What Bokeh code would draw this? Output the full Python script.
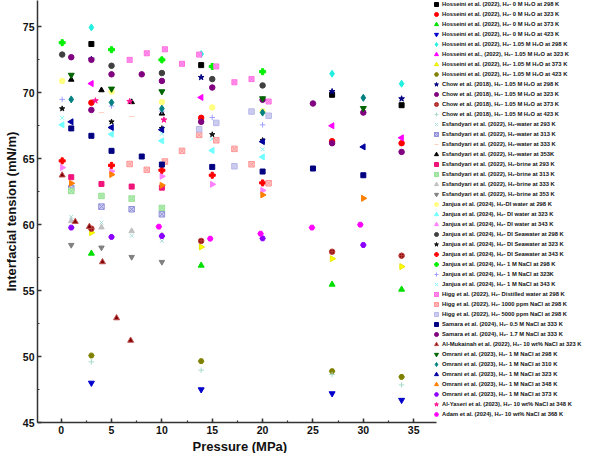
import math
from bokeh.plotting import figure
from bokeh.models import Legend, LegendItem, SingleIntervalTicker, Range1d, Title
from bokeh.embed import file_html
from bokeh.resources import INLINE

# ---------------- data (pressure MPa, IFT mN/m) ----------------
hos_p = [3.0, 13.9, 26.9, 33.8]
hos0_298 = [73.7, 72.1, 69.85, 69.06]
hos0_323 = [69.25, 68.1, 66.33, 66.18]
hos0_373 = [57.82, 56.91, 55.47, 55.09]
hos0_423 = [48.0, 47.5, 47.2, 46.7]
hos1_298 = [74.96, 72.94, 71.45, 70.69]
hos1_323 = [70.7, 69.65, 67.5, 66.59]
hos1_373 = [59.4, 58.31, 57.42, 56.82]
hos1_423 = [50.08, 49.65, 48.89, 48.46]

chow_p = [3.0, 13.9, 26.9, 33.8]
chow_298 = [72.55, 71.17, 70.1, 69.55]
chow_323 = [68.7, 67.8, 66.18, 65.52]
chow_373 = [59.7, 58.77, 57.95, 57.65]
chow_423 = [49.6, 48.97, 48.64, 47.85]

esf_p = [1.0, 4.0, 7.0, 10.0]
esf_w293 = [60.6, 60.16, 59.17, 58.77]
esf_w313 = [62.76, 61.37, 61.17, 60.79]
esf_w333_p = [4.0, 7.0]
esf_w333 = [68.5, 68.2]
esf_w353 = [71.0, 70.2, 69.3, 68.43]
esf_b293 = [63.6, 63.09, 62.89, 62.81]
esf_b313 = [62.56, 62.18, 61.98, 61.27]
esf_b333 = [60.28, 59.8, 59.52, 59.2]
esf_b353 = [58.46, 58.26, 57.55, 57.17]

jan_p = [0.1, 5.0, 10.0, 15.0, 20.0]
jan_di298 = [70.9, 70.1, 69.3, 68.89, 68.6]
jan_di323 = [67.57, 66.86, 66.36, 65.62, 65.14]
jan_di343 = [64.33, 64.05, 63.67, 63.06, 62.6]
jan_sw298 = [72.9, 72.05, 71.5, 71.04, 70.56]
jan_sw323 = [68.8, 67.8, 67.3, 66.84, 66.4]
jan_sw343 = [64.84, 64.5, 64.13, 63.75, 63.17]
jan_n298 = [73.8, 73.27, 72.5, 72.0, 71.6]
jan_n323 = [69.5, 69.0, 68.6, 68.13, 67.57]
jan_n343 = [68.1, 67.4, 66.9, 66.5, 65.72]

higg_p = [6.8, 8.5, 10.3, 12.0, 13.7, 15.4, 17.2, 18.9, 20.6]
higg_dw = [72.5, 73.0, 73.3, 72.2, 72.9, 72.0, 70.8, 71.04, 69.34]
higg_1000 = [64.6, 64.16, 64.79, 65.6, 66.81, 66.4, 65.75, 64.58, 63.14]
higg_5000_p = [13.7, 15.4, 17.2, 18.9, 20.6]
higg_5000 = [67.24, 67.72, 64.43, 68.58, 68.26]

sam_p = [1.0, 3.0, 5.0, 8.0, 10.0, 15.0, 20.0, 25.0, 30.0]
sam_05 = [67.3, 66.74, 65.6, 65.17, 64.56, 64.38, 64.03, 64.26, 63.75]
sam_17 = [72.7, 72.5, 71.4, 71.4, 70.9, 70.4, 69.47, 69.19, 68.5]

muk_p = [0.1, 1.4, 2.8, 4.1, 5.5, 6.9]
muk_323 = [63.75, 60.23, 59.85, 57.17, 52.92, 51.22]

omr_p = [1.0, 5.0, 10.0, 20.0, 30.0]
omr_298 = [71.35, 70.3, 70.1, 69.57, 68.83]
omr_310 = [69.5, 69.27, 68.8, 68.5, 69.62]
omr_323 = [67.8, 67.37, 67.2, 66.3, 65.9]
omr_348 = [63.14, 63.8, 62.99, 62.26, 62.0]
omr_373 = [59.78, 59.07, 59.14, 58.96, 58.46]

yas_p = [3.4, 6.8, 10.2]
yas_348 = [69.4, 69.35, 67.95]

adam_p = [9.7, 14.8, 19.8, 24.9, 29.7]
adam_368 = [59.85, 58.94, 59.32, 59.78, 60.0]

# axis settings
x_start, x_axis_end, x_view_end = -2.35, 37.3, 51.96
y_start, y_end = 45, 77
tick_step = 5

H2 = "H\u2082"
H2O = "H\u2082O"

# label, x, y, marker, fill, line, size, angle
series = [
    (f"Hosseini et al. (2022), {H2}- 0 M {H2O} at 298 K", hos_p, hos0_298, "square", "#000000", "#000000", 5, 0),
    (f"Hosseini et al. (2022), {H2}- 0 M {H2O} at 323 K", hos_p, hos0_323, "circle", "#FF0000", "#FF0000", 5.5, 0),
    (f"Hosseini et al. (2022), {H2}- 0 M {H2O} at 373 K", hos_p, hos0_373, "triangle", "#00E000", "#00E000", 6, 0),
    (f"Hosseini et al. (2022), {H2}- 0 M {H2O} at 423 K", hos_p, hos0_423, "inverted_triangle", "#0000CC", "#0000CC", 6, 0),
    (f"Hosseini et al. (2022), {H2}- 1.05 M {H2O} at 298 K", hos_p, hos1_298, "diamond", "#20F0E0", "#20F0E0", 7, 0),
    (f"Hosseini et al., (2022), {H2}- 1.05 M {H2O} at 323 K", hos_p, hos1_323, "triangle", "#FF00FF", "#FF00FF", 6, math.pi / 2),
    (f"Hosseini et al. (2022), {H2}- 1.05 M {H2O} at 373 K", hos_p, hos1_373, "triangle", "#FFFF00", "#E8E800", 6, -math.pi / 2),
    (f"Hosseini et al. (2022), {H2}- 1.05 M {H2O} at 423 K", hos_p, hos1_423, "hex", "#808000", "#808000", 5.5, 0),
    (f"Chow et al. (2018), {H2}- 1.05 M {H2O} at 298 K", chow_p, chow_298, "star", "#000080", "#000080", 6, 0),
    (f"Chow et al. (2018), {H2}- 1.05 M {H2O} at 323 K", chow_p, chow_323, "circle", "#800080", "#800080", 5.5, 0),
    (f"Chow et al. (2018), {H2}- 1.05 M {H2O} at 373 K", chow_p, chow_373, "circle_cross", "#800000", "#C04040", 5.5, 0),
    (f"Chow et al. (2018), {H2}- 1.05 M {H2O} at 423 K", chow_p, chow_423, "cross", "#A8DCC8", "#A8DCC8", 5.5, 0),
    (f"Esfandyari et al. (2022), {H2}-water at 293 K", esf_p, esf_w293, "x", "#A8DCD8", "#A8DCD8", 5.5, 0),
    (f"Esfandyari et al. (2022), {H2}-water at 313 K", esf_p, esf_w313, "square_x", "#D0D0F4", "#9090D8", 5.5, 0),
    (f"Esfandyari et al. (2022), {H2}-water at 333 K", esf_w333_p, esf_w333, "dash", "#FFD0C0", "#FFD0C0", 5.5, 0),
    (f"Esfandyari et al. (2022), {H2}-water at 353K", esf_p, esf_w353, "triangle", "#000000", "#000000", 5.5, 0),
    (f"Esfandyari et al. (2022), {H2}-brine at 293 K", esf_p, esf_b293, "square", "#F0147A", "#F0147A", 5, 0),
    (f"Esfandyari et al. (2022), {H2}-brine at 313 K", esf_p, esf_b313, "square_x", "#B8F0B8", "#98E098", 5.5, 0),
    (f"Esfandyari et al. (2022), {H2}-brine at 333 K", esf_p, esf_b333, "triangle", "#C0C0C0", "#C0C0C0", 5.5, 0),
    (f"Esfandyari et al. (2022), {H2}-brine at 353 K", esf_p, esf_b353, "inverted_triangle", "#808080", "#808080", 5.5, 0),
    (f"Janjua et al. (2024), {H2}-DI water at 298 K", jan_p, jan_di298, "circle", "#FFFF80", "#FFFF80", 5.5, 0),
    (f"Janjua et al. (2024), {H2}- DI water at 323 K", jan_p, jan_di323, "triangle", "#70FFFF", "#70FFFF", 6, math.pi / 2),
    (f"Janjua et al. (2024), {H2}- DI water at 343 K", jan_p, jan_di343, "triangle", "#FF80FF", "#FF80FF", 6, -math.pi / 2),
    (f"Janjua et al. (2024), {H2}- DI Seawater at 298 K", jan_p, jan_sw298, "circle", "#404040", "#404040", 5.5, 0),
    (f"Janjua et al. (2024), {H2}- DI Seawater at 323 K", jan_p, jan_sw323, "star", "#101010", "#101010", 5.5, 0),
    (f"Janjua et al. (2024), {H2}- DI Seawater at 343 K", jan_p, jan_sw343, "plus", "#FF0000", "#FF0000", 6, 0),
    (f"Janjua et al. (2024), {H2}- 1 M NaCl at 298 K", jan_p, jan_n298, "plus", "#00F000", "#00F000", 6, 0),
    (f"Janjua et al. (2024), {H2}- 1 M NaCl at 323K", jan_p, jan_n323, "cross", "#A0A0FF", "#A0A0FF", 5.5, 0),
    (f"Janjua et al. (2024), {H2}- 1 M NaCl at 343 K", jan_p, jan_n343, "x", "#80F8F8", "#80F8F8", 5.5, 0),
    (f"Higg et al. (2022), {H2}- Distilled water at 298 K", higg_p, higg_dw, "square_x", "#FF9CF0", "#FF70E0", 5, 0),
    (f"Higg et al. (2022), {H2}- 1000 ppm NaCl at 298 K", higg_p, higg_1000, "square_x", "#FFC8C8", "#FF9898", 5.5, 0),
    (f"Higg et al. (2022), {H2}- 5000 ppm NaCl at 298 K", higg_5000_p, higg_5000, "square", "#CCCCF0", "#B8B8E8", 5.5, 0),
    (f"Samara et al. (2024), {H2}- 0.5 M NaCl at 333 K", sam_p, sam_05, "square", "#000080", "#000080", 5, 0),
    (f"Samara et al. (2024), {H2}- 1.7 M NaCl at 333 K", sam_p, sam_17, "circle", "#800080", "#800080", 5.5, 0),
    (f"Al-Mukainah et al. (2022), {H2}- 10 wt% NaCl at 323 K", muk_p, muk_323, "triangle", "#800000", "#C05050", 6, 0),
    (f"Omrani et al. (2023), {H2}- 1 M NaCl at 298 K", omr_p, omr_298, "inverted_triangle", "#006400", "#006400", 6, 0),
    (f"Omrani et al. (2023), {H2}- 1 M NaCl at 310 K", omr_p, omr_310, "diamond", "#008080", "#008080", 7, 0),
    (f"Omrani et al. (2023), {H2}- 1 M NaCl at 323 K", omr_p, omr_323, "triangle", "#0000A0", "#0000A0", 6, math.pi / 2),
    (f"Omrani et al. (2023), {H2}- 1 M NaCl at 348 K", omr_p, omr_348, "triangle", "#FF8000", "#FF8000", 6, -math.pi / 2),
    (f"Omrani et al. (2023), {H2}- 1 M NaCl at 373 K", omr_p, omr_373, "hex", "#8B00FF", "#8B00FF", 5.5, 0),
    (f"Al-Yaseri et al. (2023), {H2}- 10 wt% NaCl at 348 K", yas_p, yas_348, "star", "#FF1493", "#FF1493", 6, 0),
    (f"Adam et al. (2024), {H2}- 10 wt% NaCl at 368 K", adam_p, adam_368, "hex", "#FF00FF", "#FF00FF", 5.5, 0),
]

FONT = "Liberation Sans"

p = figure(width=584, height=453, output_backend="svg", toolbar_location=None,
           x_range=Range1d(x_start, x_view_end), y_range=Range1d(y_start, y_end),
           min_border_top=0, min_border_right=0, min_border_left=0, min_border_bottom=0)
p.grid.visible = False
p.outline_line_color = None
p.background_fill_color = "white"
p.border_fill_color = "white"

items = []
for label, xs, ys, marker, fill, line, size, angle in series:
    r = p.scatter(xs, ys, marker=marker, size=size, fill_color=fill, line_color=line,
                  line_width=1, angle=angle)
    items.append(LegendItem(label=label, renderers=[r]))

for ax in (p.xaxis[0], p.yaxis[0]):
    ax.ticker = SingleIntervalTicker(interval=tick_step, num_minor_ticks=2)
    ax.axis_line_color = "#333333"
    ax.axis_line_width = 1.5
    ax.major_tick_line_color = "#333333"
    ax.major_tick_line_width = 1.5
    ax.minor_tick_line_color = "#333333"
    ax.minor_tick_line_width = 1.2
    ax.major_tick_in = 4
    ax.major_tick_out = 0
    ax.minor_tick_in = 2
    ax.minor_tick_out = 0
    ax.major_label_text_font = FONT
    ax.major_label_text_font_style = "bold"
    ax.major_label_text_font_size = "10.5px"
    ax.major_label_text_color = "#111111"
    ax.axis_label_text_font = FONT
    ax.axis_label_text_font_style = "bold"
    ax.axis_label_text_font_size = "13px"
    ax.axis_label_text_color = "#111111"
    ax.major_label_standoff = 3
    ax.axis_label_standoff = 1

p.xaxis.bounds = (x_start, x_axis_end)
p.yaxis.axis_label = "Interfacial tension (mN/m)"

xtitle = Title(text="Pressure (MPa)", align="left", offset=155, standoff=0,
               text_font=FONT, text_font_size="13px", text_font_style="bold",
               text_color="#111111")
p.add_layout(xtitle, "below")

legend = Legend(items=items, location=(394, 3),
                label_text_font=FONT, label_text_font_style="bold",
                label_text_font_size="5.8px", label_text_color="#111111",
                glyph_width=10, glyph_height=10, label_height=10,
                spacing=0, padding=0, margin=0, label_standoff=1,
                border_line_color=None, background_fill_alpha=0)
p.add_layout(legend)

open("out.html", "w").write(file_html(p, INLINE))
